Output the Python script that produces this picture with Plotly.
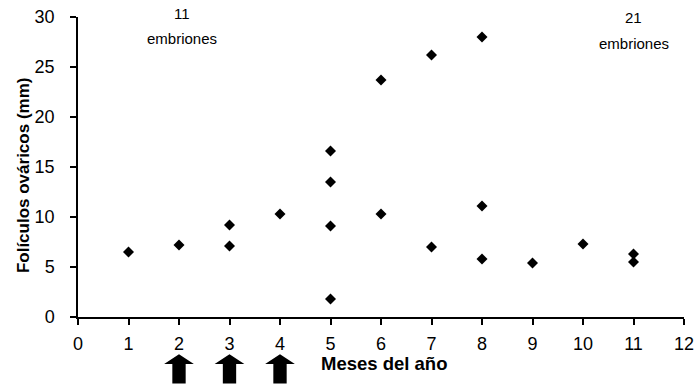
import plotly.graph_objects as go

# Data: months and follicle diameters (mm)
months = [1, 2, 3, 3, 4, 5, 5, 5, 5, 6, 6, 7, 7, 8, 8, 8, 9, 10, 11, 11]
follicles = [6.5, 7.2, 9.2, 7.1, 10.3, 16.6, 13.5, 9.1, 1.8, 23.7, 10.3,
             26.2, 7.0, 28.0, 11.1, 5.8, 5.4, 7.3, 6.3, 5.5]

arrow_months = [2, 3, 4]
x_ticks = list(range(0, 13))
y_ticks = [0, 5, 10, 15, 20, 25, 30]

xmin, xmax = 0, 12
W, H = 695, 388
ML, MR, MT, MB = 78, 11, 17, 71
font_main = "Liberation Sans, Arial, sans-serif"
font_narrow = "Liberation Sans Narrow, Liberation Sans, Arial, sans-serif"

fig = go.Figure()
fig.add_trace(go.Scatter(
    x=months, y=follicles, mode="markers",
    marker=dict(symbol="diamond", size=8.5, color="black"),
    showlegend=False, cliponaxis=False,
))

# Block arrows under months 2, 3, 4
shapes = []
for m in arrow_months:
    cx = (m - xmin) / (xmax - xmin)
    hw = 0.0245   # head half-width (paper)
    sw = 0.011    # stem half-width (paper)
    top, base, bottom = -0.124, -0.157, -0.222
    path = (f"M {cx} {top} L {cx+hw} {base} L {cx+sw} {base} L {cx+sw} {bottom} "
            f"L {cx-sw} {bottom} L {cx-sw} {base} L {cx-hw} {base} Z")
    shapes.append(dict(type="path", path=path, xref="paper", yref="paper",
                       fillcolor="black", line=dict(color="black", width=0)))

plot_w = W - ML - MR
ann_font = dict(family=font_narrow, size=15, color="black")
annotations = [
    dict(x=2.05, y=1.01, text="11", showarrow=False, xref="x", yref="paper",
         yanchor="middle", font=ann_font),
    dict(x=2.05, y=0.927, text="embriones", showarrow=False, xref="x", yref="paper",
         yanchor="middle", font=ann_font),
    dict(x=11.0, y=0.997, text="21", showarrow=False, xref="x", yref="paper",
         yanchor="middle", font=ann_font),
    dict(x=11.0, y=0.913, text="embriones", showarrow=False, xref="x", yref="paper",
         yanchor="middle", font=ann_font),
    dict(x=6.05, y=-0.195, text="<b>Meses del año</b>", showarrow=False,
         xref="x", yref="paper",
         font=dict(family=font_main, size=18.5, color="black")),
    dict(x=(23 - ML) / plot_w, y=0.473, text="<b>Folículos ováricos (mm)</b>",
         showarrow=False, xref="paper", yref="paper", xanchor="center",
         yanchor="middle", textangle=-90,
         font=dict(family=font_main, size=17, color="black")),
]

fig.update_layout(
    width=W, height=H,
    margin=dict(l=ML, r=MR, t=MT, b=MB),
    paper_bgcolor="white", plot_bgcolor="white",
    font=dict(family=font_main, size=18, color="black"),
    shapes=shapes, annotations=annotations,
    xaxis=dict(range=[xmin, xmax], tickvals=x_ticks, showgrid=False,
               zeroline=False, showline=True, linecolor="black", linewidth=1.5,
               ticks="outside", ticklen=6, tickcolor="black", tickwidth=1.5,
               ticklabelstandoff=4, automargin=False,
               ticklabeloverflow="allow"),
    yaxis=dict(range=[0, 30], tickvals=y_ticks, showgrid=False,
               zeroline=False, showline=True, linecolor="black", linewidth=1.5,
               ticks="outside", ticklen=6, tickcolor="black", tickwidth=1.5,
               ticklabelstandoff=12, automargin=False,
               ticklabeloverflow="allow"),
)

fig.write_html("out.html", config={"displayModeBar": False},
               post_script="document.body.style.margin='0';"
                           "document.body.style.overflow='hidden';")
